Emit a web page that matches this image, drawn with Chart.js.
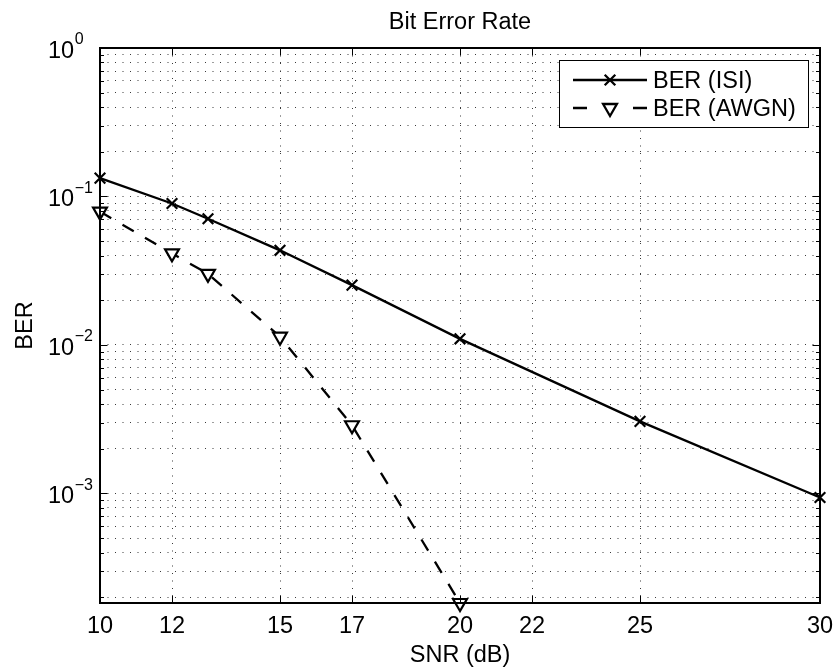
<!DOCTYPE html>
<html>
<head>
<meta charset="utf-8">
<title>Bit Error Rate</title>
<script src="https://cdn.jsdelivr.net/npm/chart.js@4.4.1/dist/chart.umd.min.js"></script>
<style>
  html, body { margin: 0; padding: 0; background: #fff; }
  canvas { display: block; }
</style>
</head>
<body>
<canvas id="berChart" width="838" height="669"></canvas>
<script>
// Simulated bit error rates against SNR
const snrIsi = [10, 12, 13, 15, 17, 20, 25, 30];
const berIsi = [0.133, 0.0897, 0.0708, 0.0434, 0.0253, 0.0110, 0.00306, 0.00094];
const snrAwgn = [10, 12, 13, 15, 17, 20];
const berAwgn = [0.0791, 0.0414, 0.0301, 0.01137, 0.00288, 0.000183];

const seriesNames = ['BER (ISI)', 'BER (AWGN)'];
const xTickValues = [10, 12, 15, 17, 20, 22, 25, 30];
const yDecadeExponents = [0, -1, -2, -3];
const yRange = [0.000183, 1];
const xRange = [10, 30];
const titleText = 'Bit Error Rate';
const xLabelText = 'SNR (dB)';
const yLabelText = 'BER';

const FONT = "'Liberation Sans', Arial, Helvetica, sans-serif";
const TEXT_PX = 23.5;
const SUP_PX = 16;

// every 1..9 x 10^k position inside the y range, used for minor grid lines
function logTickValues(lo, hi) {
  const out = [];
  for (let e = Math.floor(Math.log10(lo)); e <= Math.ceil(Math.log10(hi)); e++) {
    for (let m = 1; m <= 9; m++) {
      const v = m * Math.pow(10, e);
      if (v >= lo * 0.9999 && v <= hi * 1.0001) out.push(v);
    }
  }
  return out;
}

function pairs(xs, ys) {
  return xs.map((x, i) => ({ x: x, y: ys[i] }));
}

const isiStyle = {
  borderColor: '#000', borderWidth: 2.3, borderDash: [],
  pointStyle: 'crossRot', pointRadius: 7.5, pointRotation: 0,
  pointBorderWidth: 2.2, pointBorderColor: '#000', pointBackgroundColor: '#000'
};
const awgnStyle = {
  borderColor: '#000', borderWidth: 2.3, borderDash: [13, 13],
  pointStyle: 'triangle', pointRadius: 8, pointRotation: 180,
  pointBorderWidth: 2.2, pointBorderColor: '#000', pointBackgroundColor: '#fff'
};

// Axes box, inward tick marks, text and legend drawn in MATLAB style
const matlabFrame = {
  id: 'matlabFrame',
  beforeDraw(chart) {
    const ctx = chart.ctx;
    ctx.save();
    ctx.fillStyle = '#fff';
    ctx.fillRect(0, 0, chart.width, chart.height);
    ctx.restore();
  },
  afterDraw(chart) {
    const ctx = chart.ctx;
    const a = chart.chartArea;
    const xs = chart.scales.x;
    const ys = chart.scales.y;
    ctx.save();

    // tick marks pointing into the plot
    ctx.strokeStyle = '#000';
    ctx.lineWidth = 1;
    ctx.beginPath();
    xTickValues.forEach(v => {
      const px = Math.round(xs.getPixelForValue(v)) + 0.5;
      ctx.moveTo(px, a.bottom); ctx.lineTo(px, a.bottom - 7.5);
      ctx.moveTo(px, a.top); ctx.lineTo(px, a.top + 7.5);
    });
    logTickValues(yRange[0], yRange[1]).forEach(v => {
      const py = Math.round(ys.getPixelForValue(v)) + 0.5;
      const major = Math.abs(Math.log10(v) - Math.round(Math.log10(v))) < 1e-9;
      const len = major ? 7.5 : 4;
      ctx.moveTo(a.left, py); ctx.lineTo(a.left + len, py);
      ctx.moveTo(a.right, py); ctx.lineTo(a.right - len, py);
    });
    ctx.stroke();

    // axes box
    ctx.lineWidth = 2;
    ctx.strokeRect(a.left, a.top, a.right - a.left, a.bottom - a.top);

    // title
    ctx.fillStyle = '#000';
    ctx.font = TEXT_PX + 'px ' + FONT;
    ctx.textAlign = 'center';
    ctx.textBaseline = 'alphabetic';
    const cx = (a.left + a.right) / 2;
    ctx.fillText(titleText, cx, 29);

    // x tick labels and axis label
    xTickValues.forEach(v => {
      ctx.fillText(String(v), xs.getPixelForValue(v), a.bottom + 30);
    });
    ctx.fillText(xLabelText, cx, a.bottom + 59);

    // y axis label
    ctx.save();
    ctx.translate(32, (a.top + a.bottom) / 2);
    ctx.rotate(-Math.PI / 2);
    ctx.fillText(yLabelText, 0, 0);
    ctx.restore();

    // y decade labels: 10 with a raised exponent
    ctx.textAlign = 'left';
    yDecadeExponents.forEach(e => {
      const py = ys.getPixelForValue(Math.pow(10, e));
      ctx.font = TEXT_PX + 'px ' + FONT;
      ctx.fillText('10', 48, py + 9.7);
      const w = ctx.measureText('10').width;
      ctx.font = SUP_PX + 'px ' + FONT;
      ctx.fillText(e === 0 ? '0' : '\u2212' + (-e), 48 + w + 0.5, py - 3.6);
    });

    // legend
    const lx = a.right - 12 - 249, ly = a.top + 12, lw = 249, lh = 67;
    ctx.fillStyle = '#fff';
    ctx.fillRect(lx, ly, lw, lh);
    ctx.strokeStyle = '#000';
    ctx.lineWidth = 1;
    ctx.strokeRect(Math.round(lx) + 0.5, Math.round(ly) + 0.5, lw, lh);

    const rows = [ly + 20, ly + 48];
    const sx0 = lx + 14, sx1 = lx + 88, smid = (sx0 + sx1) / 2;
    chart.data.datasets.forEach((ds, i) => {
      const ry = rows[i];
      ctx.strokeStyle = ds.borderColor;
      ctx.lineWidth = ds.borderWidth;
      ctx.setLineDash([]);
      ctx.beginPath();
      if (ds.borderDash && ds.borderDash.length) {
        ctx.moveTo(sx0, ry); ctx.lineTo(sx0 + 14, ry);
        ctx.moveTo(sx1 - 14, ry); ctx.lineTo(sx1, ry);
      } else {
        ctx.moveTo(sx0, ry); ctx.lineTo(sx1, ry);
      }
      ctx.stroke();
      ctx.fillStyle = ds.pointBackgroundColor;
      ctx.strokeStyle = ds.pointBorderColor;
      Chart.helpers.drawPoint(ctx, {
        pointStyle: ds.pointStyle,
        rotation: ds.pointRotation,
        radius: ds.pointRadius,
        borderWidth: ds.pointBorderWidth
      }, smid, ry);
      ctx.fillStyle = '#000';
      ctx.font = TEXT_PX + 'px ' + FONT;
      ctx.textAlign = 'left';
      ctx.textBaseline = 'alphabetic';
      ctx.fillText(seriesNames[i], sx1 + 6, ry + 8.4);
    });

    ctx.restore();
  }
};

Chart.defaults.font.family = FONT;

new Chart(document.getElementById('berChart'), {
  type: 'line',
  data: {
    datasets: [
      Object.assign({ label: seriesNames[0], data: pairs(snrIsi, berIsi), clip: false, tension: 0, fill: false }, isiStyle),
      Object.assign({ label: seriesNames[1], data: pairs(snrAwgn, berAwgn), clip: false, tension: 0, fill: false }, awgnStyle)
    ]
  },
  options: {
    responsive: false,
    devicePixelRatio: 1,
    animation: false,
    events: [],
    layout: { padding: { left: 100, right: 18, top: 48, bottom: 66 } },
    plugins: {
      legend: { display: false },
      title: { display: false },
      tooltip: { enabled: false }
    },
    scales: {
      x: {
        type: 'linear',
        min: xRange[0],
        max: xRange[1],
        afterBuildTicks: scale => { scale.ticks = xTickValues.map(v => ({ value: v })); },
        ticks: { display: false },
        grid: { color: '#3a3a3a', lineWidth: 1, drawTicks: false },
        border: { display: false, dash: [1, 6.5] }
      },
      y: {
        type: 'logarithmic',
        min: yRange[0],
        max: yRange[1],
        afterBuildTicks: scale => { scale.ticks = logTickValues(yRange[0], yRange[1]).map(v => ({ value: v })); },
        ticks: { display: false },
        grid: { color: '#3a3a3a', lineWidth: 1, drawTicks: false },
        border: { display: false, dash: [1, 6.5] }
      }
    }
  },
  plugins: [matlabFrame]
});
</script>
</body>
</html>
